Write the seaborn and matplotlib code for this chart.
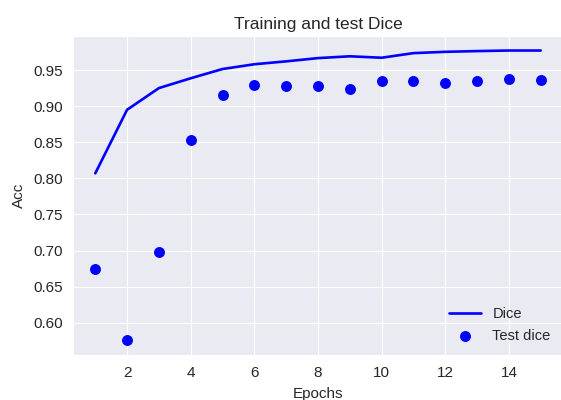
import numpy as np
import pandas as pd
import matplotlib
matplotlib.use("Agg")
import matplotlib.pyplot as plt
import seaborn as sns

epochs = list(range(1, 16))
train_dice = [0.807, 0.895, 0.925, 0.9386, 0.9514, 0.958, 0.962, 0.9665,
              0.969, 0.967, 0.9734, 0.9752, 0.9762, 0.977, 0.977]
test_dice = [0.6742, 0.5756, 0.6977, 0.8537, 0.916, 0.9298, 0.928, 0.928,
             0.9239, 0.9344, 0.9344, 0.9325, 0.9344, 0.938, 0.9362]

sns.set_style("darkgrid", {"axes.facecolor": "#EAEAF2", "grid.color": "white",
                           "text.color": ".15", "axes.labelcolor": ".15",
                           "xtick.color": ".15", "ytick.color": ".15"})
plt.rcParams["font.family"] = ["Liberation Sans", "DejaVu Sans"]

fig = plt.figure(figsize=(5.61, 4.0), dpi=100)
ax = fig.add_axes([73 / 561, 45 / 400, 490 / 561, 319 / 400])

df = pd.DataFrame({"epoch": epochs, "train": train_dice, "test": test_dice})
sns.lineplot(data=df, x="epoch", y="train", color="blue", linewidth=1.9,
             label="Dice", ax=ax)
sns.scatterplot(data=df, x="epoch", y="test", color="blue", s=62,
                linewidth=0, label="Test dice", ax=ax)

ax.set_title("Training and test Dice", fontsize=12.5, color=".15", pad=5)
ax.set_xlabel("Epochs", fontsize=11, labelpad=5)
ax.set_ylabel("Acc", fontsize=11, labelpad=5.5)
ax.tick_params(axis="x", labelsize=11, length=0, pad=8)
ax.tick_params(axis="y", labelsize=11, length=0, pad=7)
ax.set_xticks([2, 4, 6, 8, 10, 12, 14])
ax.set_yticks([0.60, 0.65, 0.70, 0.75, 0.80, 0.85, 0.90, 0.95])
ax.set_xlim(0.3, 15.7)
ax.set_ylim(0.5555, 0.9971)
ax.legend(loc="lower right", frameon=False, fontsize=10.5,
          handlelength=2.2, borderaxespad=0.45)

fig.savefig("out.png", dpi=100)
